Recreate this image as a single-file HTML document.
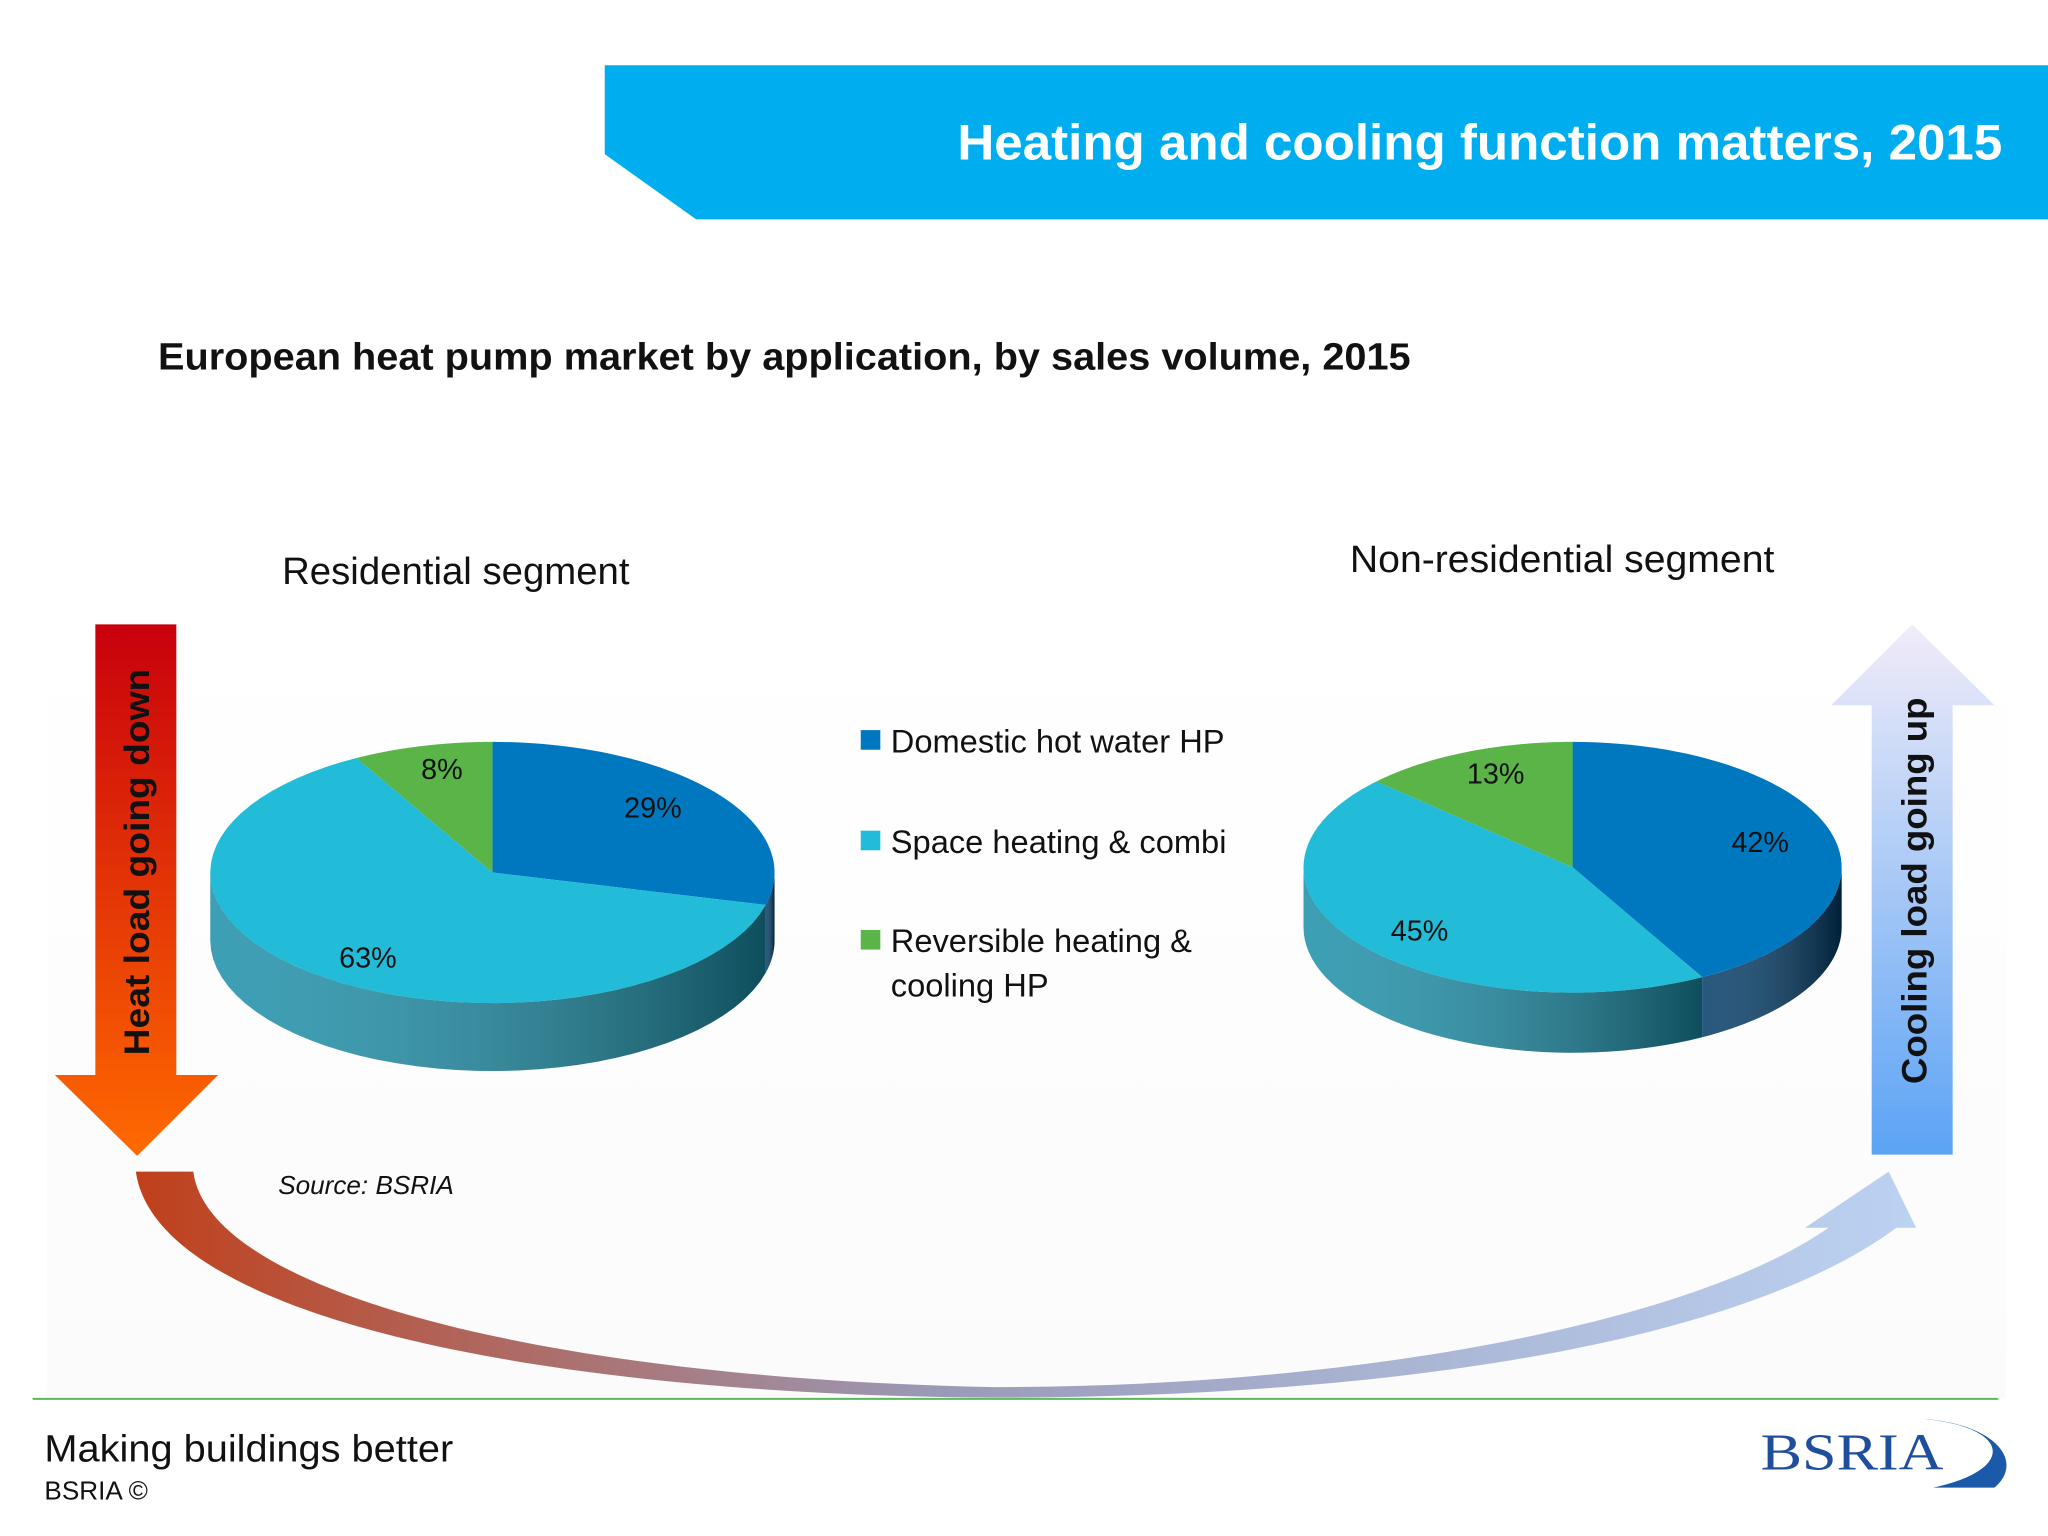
<!DOCTYPE html>
<html><head><meta charset="utf-8">
<style>
html,body{margin:0;padding:0;background:#fff;}
svg{display:block;}
text{font-family:"Liberation Sans",sans-serif;}
</style></head>
<body>
<svg id="s" width="2048" height="1536" viewBox="0 0 1568 1176" xmlns="http://www.w3.org/2000/svg">
<defs>
<linearGradient id="gl" x1="0" y1="0" x2="0" y2="1"><stop offset="0" stop-color="#c8000c"/><stop offset="1" stop-color="#ff6a00"/></linearGradient>
<linearGradient id="gr" x1="0" y1="0" x2="0" y2="1"><stop offset="0" stop-color="#f1ecf8"/><stop offset="1" stop-color="#5ba3f5"/></linearGradient>
<linearGradient id="gc" x1="0" y1="0" x2="1" y2="0"><stop offset="0" stop-color="#c0401a"/><stop offset="0.45" stop-color="#9a9ab8"/><stop offset="1" stop-color="#bcd2f2"/></linearGradient>
<linearGradient id="side" x1="0" y1="0" x2="1" y2="0"><stop offset="0" stop-color="#ffffff" stop-opacity="0.15"/><stop offset="1" stop-color="#000" stop-opacity="0.45"/></linearGradient>
<linearGradient id="bg" x1="0" y1="0" x2="0" y2="1"><stop offset="0" stop-color="#fff"/><stop offset="1" stop-color="#fbfbfb"/></linearGradient>
</defs>
<rect x="0" y="0" width="1568" height="1176" fill="#fff"/>
<rect x="36" y="478" width="1500" height="592" fill="url(#bg)"/>
<polygon points="463,50 1568,50 1568,168 533,168 463,118" fill="#00aeef"/>
<text x="1533" y="122" text-anchor="end" fill="#fff" font-size="38" font-weight="bold" textLength="800" lengthAdjust="spacingAndGlyphs">Heating and cooling function matters, 2015</text>
<text x="121" y="283" font-size="29" font-weight="bold" fill="#111" textLength="959" lengthAdjust="spacingAndGlyphs">European heat pump market by application, by sales volume, 2015</text>
<text x="349" y="447" text-anchor="middle" font-size="29" fill="#111" textLength="266" lengthAdjust="spacingAndGlyphs">Residential segment</text>
<text x="1196" y="438" text-anchor="middle" font-size="29" fill="#111" textLength="325" lengthAdjust="spacingAndGlyphs">Non-residential segment</text>

<polygon points="73,478 135,478 135,823 167,823 105,885 42,823 73,823" fill="url(#gl)"/>
<text transform="translate(114,660) rotate(-90)" text-anchor="middle" font-size="27" font-weight="bold" fill="#111" textLength="296" lengthAdjust="spacingAndGlyphs">Heat load going down</text>
<polygon points="1464,478 1527,540 1495,540 1495,884 1433,884 1433,540 1402,540" fill="url(#gr)"/>
<text transform="translate(1475,682) rotate(-90)" text-anchor="middle" font-size="27" font-weight="bold" fill="#111" textLength="296" lengthAdjust="spacingAndGlyphs">Cooling load going up</text>
<path d="M104,897 L148,897 C160,990 420,1055 760,1062 C1050,1062 1300,1010 1400,940 L1382,940 L1446,897 L1467,940 L1452,940 C1330,1030 1060,1070 760,1070 C420,1068 120,1010 104,897 Z" fill="url(#gc)"/>
<text x="213" y="914" font-size="20" font-style="italic" fill="#111">Source: BSRIA</text>

<g id="legend"></g>
<g id="pies"></g>

<line x1="25" y1="1071" x2="1530" y2="1071" stroke="#5cb85c" stroke-width="1.5"/>
<text x="34" y="1119" font-size="29" fill="#111" textLength="313" lengthAdjust="spacingAndGlyphs">Making buildings better</text>
<text x="34" y="1148" font-size="20" fill="#111">BSRIA ©</text>
<g>
<path d="M1470,1086 C1540,1092 1545,1125 1480,1139 L1527,1139 C1550,1120 1530,1090 1470,1086 Z" fill="#1a5aa8"/>
<text x="1348" y="1125" font-size="40" fill="#1f4e9c" textLength="140" lengthAdjust="spacingAndGlyphs" style="font-family:'Liberation Serif',serif">BSRIA</text>
</g>
</svg>
<script>
const categories = ["Domestic hot water HP","Space heating & combi","Reversible heating & cooling HP"];
const residentialValues = [29, 63, 8];
const nonResidentialValues = [42, 45, 13];
const colors = ["#0078c0","#22bcd8","#5ab448"];
const sideColors = ["#003a66","#1a8ea8","#3a7a2e"];
const NS="http://www.w3.org/2000/svg";
const pies=document.getElementById('pies');
function el(t,a,p){const e=document.createElementNS(NS,t);for(const k in a)e.setAttribute(k,a[k]);(p||pies).appendChild(e);return e;}
function pt(c,t,dy){return [c.cx+c.rx*Math.sin(t), c.cy-c.ry*Math.cos(t)+(dy||0)];}
function drawPie(vals,c,name){
  const g=el('g',{});
  
  
  const tot=vals.reduce((a,b)=>a+b,0);
  let acc=0;const angs=[];
  vals.forEach(v=>{const a0=acc/tot*2*Math.PI;acc+=v;angs.push([a0,acc/tot*2*Math.PI]);});
  vals.forEach((v,i)=>{
    const a=Math.max(angs[i][0],Math.PI/2),b=Math.min(angs[i][1],Math.PI*1.5);
    if(b<=a)return;
    let d='';const N=40;
    for(let k=0;k<=N;k++){const p=pt(c,a+(b-a)*k/N);d+=(k?'L':'M')+p[0]+','+p[1];}
    for(let k=N;k>=0;k--){const p=pt(c,a+(b-a)*k/N,c.d);d+='L'+p[0]+','+p[1];}
    const s=el('path',{d:d+'Z',fill:sideColors[i]},g);
    
    
    const s2=el('path',{d:d+'Z',fill:'url(#side)'},g);
    
    
  });
  vals.forEach((v,i)=>{
    const [a,b]=angs[i];let d='M'+c.cx+','+c.cy;const N=60;
    for(let k=0;k<=N;k++){const p=pt(c,a+(b-a)*k/N);d+='L'+p[0]+','+p[1];}
    const s=el('path',{d:d+'Z',fill:colors[i]},g);
    
    
    const m=(a+b)/2;const p=[c.cx+c.rx*0.72*Math.sin(m),c.cy-c.ry*0.82*Math.cos(m)];
    const t=el('text',{x:p[0],y:p[1]+8,'text-anchor':'middle','font-size':22,fill:'#111'},g);
    t.textContent=v+'%';
    
    
  });
}
drawPie(residentialValues,{cx:377,cy:668,rx:216,ry:100,d:52},'residential-pie');
drawPie(nonResidentialValues,{cx:1204,cy:664,rx:206,ry:96,d:46},'nonresidential-pie');
const lg=document.getElementById('legend');
const ly=[568,645,721];
categories.forEach((c,i)=>{
  const r=el('rect',{x:659,y:ly[i]-9,width:15,height:15,fill:colors[i]},lg);
  
  
  const t=el('text',{x:682,y:ly[i]+8,'font-size':25,fill:'#111'},lg);
  
  
  if(i===2){
    const a=document.createElementNS(NS,'tspan');a.textContent='Reversible heating &';t.appendChild(a);
    const b=document.createElementNS(NS,'tspan');b.setAttribute('x',682);b.setAttribute('dy',34);b.textContent='cooling HP';t.appendChild(b);
  } else t.textContent=c;
});
</script>
</body></html>
